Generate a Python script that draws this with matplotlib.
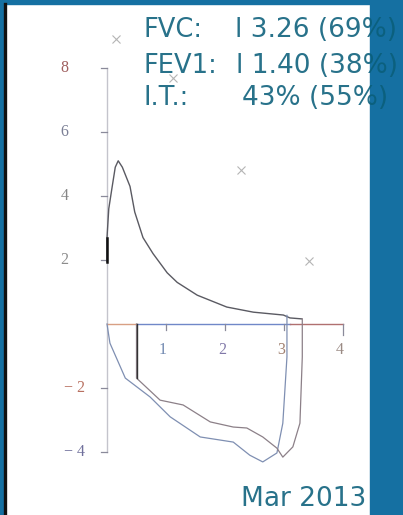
import matplotlib.pyplot as plt
from matplotlib.patches import Rectangle
from matplotlib.lines import Line2D

# expiratory limb (volume l, flow l/s)
exp_vol = [0.0, 0.0, 0.03, 0.08, 0.14, 0.19, 0.26, 0.39, 0.47, 0.61, 0.78, 1.02,
           1.19, 1.53, 2.03, 2.48, 2.99, 3.10, 3.30]
exp_flow = [1.95, 2.7, 3.6, 4.2, 4.9, 5.1, 4.9, 4.3, 3.5, 2.7, 2.2, 1.6,
            1.3, 0.9, 0.53, 0.37, 0.28, 0.19, 0.16]

# inspiratory limb, trial 1 (ends at 3.05 l)
insp1_vol = [0.0, 0.05, 0.31, 0.73, 1.07, 1.58, 2.14, 2.42, 2.64, 2.88, 2.98, 3.05, 3.05]
insp1_flow = [0.0, -0.6, -1.69, -2.28, -2.9, -3.53, -3.69, -4.1, -4.31, -4.03, -3.1, -1.03, 0.27]

# inspiratory limb, trial 2 (ends at 3.31 l)
insp2_vol = [0.5, 0.5, 0.9, 1.29, 1.75, 2.14, 2.37, 2.64, 2.88, 2.98, 3.15, 3.27, 3.31, 3.31]
insp2_flow = [0.0, -1.69, -2.38, -2.53, -3.06, -3.22, -3.25, -3.53, -3.88, -4.16, -3.84, -3.1, -1.03, 0.16]

# predicted points
pred_vol = [0.15, 1.12, 2.27, 3.42]
pred_flow = [8.9, 7.7, 4.8, 1.97]

yticks = [8, 6, 4, 2, -2, -4]
ytick_colors = ["#a06060", "#7c8096", "#858585", "#8c8c8c", "#b87060", "#70709c"]
xticks = [1, 2, 3, 4]
xtick_colors = ["#7088b0", "#8078a8", "#a08070", "#9a8a84"]

summary_keys = ["FVC:", "FEV1:", "I.T.:"]
summary_vals = ["l 3.26 (69%)", "l 1.40 (38%)", "43% (55%)"]
date_label = "Mar 2013"

BLUE = "#1570a2"
TEAL = "#0a5e7a"

fig = plt.figure(figsize=(4.03, 5.15), dpi=100)
ax = fig.add_axes([0, 0, 1, 1])
# pixel frame: x = 0 at px 107, 59 px per litre; y = 0 at px 324, 32 px per l/s
ax.set_xlim(-107 / 59, (403 - 107) / 59)
ax.set_ylim(-(515 - 324) / 32, 324 / 32)
ax.axis("off")

# axes drawn by hand
ax.plot([0, 0], [-4, 8], color="#c4c4cc", lw=1.0, zorder=1)
for v, c in zip(yticks, ytick_colors):
    ax.plot([-0.1, 0], [v, v], color="#8a8a9a", lw=0.9)
    ax.text(-0.72 if v > 0 else -0.55, v, str(v).replace("-", "\u2212 "), color=c,
            fontsize=11.5, family="Liberation Serif", ha="center", va="center")
ax.plot([0, 0.5], [0, 0], color="#d8a084", lw=1.0)
ax.plot([0.5, 3.1], [0, 0], color="#7088c8", lw=1.0)
ax.plot([3.1, 4.0], [0, 0], color="#b07070", lw=1.0)
for v, c in zip(xticks, xtick_colors):
    ax.plot([v, v], [0, -0.35 if v == 4 else -0.2], color="#8a8a9a", lw=0.9)
    ax.text(v - 0.05, -0.8, str(v), color=c, fontsize=11.5,
            family="Liberation Serif", ha="center", va="center")

ax.plot(exp_vol, exp_flow, color="#5a5a62", lw=1.0, zorder=3)
ax.plot([0, 0], [1.95, 2.7], color="#111111", lw=1.8, zorder=4)
ax.plot(insp1_vol, insp1_flow, color="#7f8fb2", lw=0.9, zorder=3)
ax.plot(insp2_vol, insp2_flow, color="#8c8088", lw=0.9, zorder=3)
ax.plot([0.5, 0.5], [0, -1.69], color="#333333", lw=1.0, zorder=4)
ax.plot(pred_vol, pred_flow, "x", color="#b4b4b4", ms=6, mew=0.8)

# frame: blue strip on top, left edge and right panel
fig.patches.append(Rectangle((0, 511 / 515), 1, 4 / 515, transform=fig.transFigure,
                             color=BLUE, zorder=0))
fig.patches.append(Rectangle((0, 0), 3.5 / 403, 1, transform=fig.transFigure,
                             color=BLUE, zorder=0))
fig.add_artist(Line2D([5 / 403, 5 / 403], [0, 511 / 515], transform=fig.transFigure,
                      color="#111111", lw=2.4))
fig.patches.append(Rectangle((370 / 403, 0), 33 / 403, 1, transform=fig.transFigure,
                             color=BLUE, zorder=0))

val_right = [397, 398, 388]
baselines = [37, 73, 105]
for key, val, xr, yb in zip(summary_keys, summary_vals, val_right, baselines):
    y = 1 - yb / 515
    fig.text(143 / 403, y, key, color=TEAL, alpha=0.88, fontsize=18.5,
             family="DejaVu Sans", ha="left", va="baseline", zorder=10)
    fig.text(xr / 403, y, val, color=TEAL, alpha=0.88, fontsize=19,
             family="DejaVu Sans", ha="right", va="baseline", zorder=10)
fig.text(366 / 403, 1 - 506 / 515, date_label, color=TEAL, alpha=0.88,
         fontsize=19, family="DejaVu Sans", ha="right", va="baseline", zorder=10)

fig.savefig("out.png", dpi=100)
